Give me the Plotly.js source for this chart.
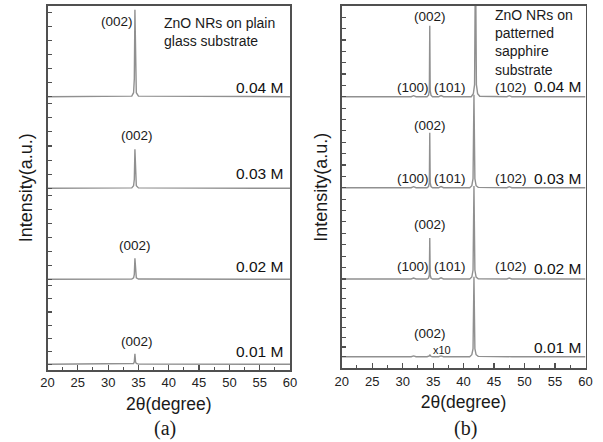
<!DOCTYPE html>
<html><head><meta charset="utf-8">
<script src="https://cdn.plot.ly/plotly-3.0.1.min.js"></script>
<style>html,body{margin:0;padding:0;background:#fff}#chart{width:603px;height:442px}</style>
</head><body><div id="chart"></div>
<script>
// ---------------- Data ----------------
const concentrations = ['0.01 M', '0.02 M', '0.03 M', '0.04 M'];

// (a) ZnO NRs on plain glass: 2θ (degree) and intensity (a.u.)
const glassTheta = [20, 33.9, 34.2, 34.32, 34.42, 34.52, 34.65, 35.0, 60];
const glass001 = [0, 0.2, 0.8, 2.5, 10.5, 2.5, 0.8, 0.2, 0];
const glass002 = [0, 0.3, 1.5, 5, 21, 5, 1.5, 0.3, 0];
const glass003 = [0, 0.4, 2.5, 9, 39, 9, 2.5, 0.4, 0];
const glass004 = [0, 0.6, 4, 18, 87, 18, 4, 0.6, 0];
const glassOffsets = [5.7, 90.7, 181.7, 273.3];

// (b) ZnO NRs on patterned sapphire
const sapphTheta = [20, 31.4, 31.8, 32.2, 34.0, 34.25, 34.38, 34.45, 34.52, 34.65, 34.9, 35.9, 36.3, 36.7, 41.0, 41.35, 41.55, 41.7, 41.85, 42.05, 42.4, 47.1, 47.5, 47.9, 60];
const sapphTheta004 = [20, 31.4, 31.8, 32.2, 34.0, 34.25, 34.38, 34.45, 34.52, 34.65, 34.9, 35.9, 36.3, 36.7, 41.25, 41.6, 41.8, 41.95, 42.1, 42.3, 42.65, 47.1, 47.5, 47.9, 60];
const sapph001 = [0, 0, 0.8, 0, 0, 0.3, 0.8, 2, 0.8, 0.3, 0, 0, 0.8, 0, 0, 2, 8, 80, 8, 2, 0.3, 0, 0.5, 0, 0];
const sapph002 = [0, 0, 1, 0, 0, 1, 4, 41, 4, 1, 0, 0, 1.2, 0, 0, 2, 9, 93, 9, 2, 0.3, 0, 1, 0, 0];
const sapph003 = [0, 0, 1, 0, 0, 1.2, 5, 55, 5, 1.2, 0, 0, 1.2, 0, 0, 2, 9, 93, 9, 2, 0.3, 0, 1, 0, 0];
const sapph004 = [0, 0, 1, 0, 0, 1.5, 6, 71, 6, 1.5, 0, 0, 1.2, 0, 0, 3, 12, 150, 12, 3, 0.4, 0, 1, 0, 0];
const sapphOffsets = [11.6, 89.3, 180.6, 271.6];

const xTickVals = [20, 25, 30, 35, 40, 45, 50, 55, 60];

// ---------------- Build ----------------
const lineStyle = {color: '#909090', width: 1.4};
const traces = [];
[glass001, glass002, glass003, glass004].forEach((s, i) => {
  traces.push({x: glassTheta, y: s.map(v => v + glassOffsets[i]), type: 'scatter', mode: 'lines',
    line: lineStyle, name: concentrations[i], xaxis: 'x', yaxis: 'y', hoverinfo: 'x+y'});
});
[sapph001, sapph002, sapph003, sapph004].forEach((s, i) => {
  const th = i === 3 ? sapphTheta004 : sapphTheta;
  traces.push({x: th, y: s.map(v => v + sapphOffsets[i]), type: 'scatter', mode: 'lines',
    line: lineStyle, name: concentrations[i], xaxis: 'x2', yaxis: 'y2', hoverinfo: 'x+y'});
});

function layerTicks(offsets, top, n, div) {
  const vals = [];
  offsets.forEach((o, i) => {
    const gap = (i < offsets.length - 1 ? offsets[i + 1] : top) - o;
    for (let k = 0; k <= n; k++) vals.push(o + k * gap / div);
  });
  return vals;
}

const FONT = 'Arial, "Liberation Sans", sans-serif';
const axisCol = '#505050';
function xAxis(domain, anchor) {
  return {domain, anchor, range: [20, 60], showgrid: false, zeroline: false,
    showline: true, mirror: true, linecolor: axisCol, linewidth: 1.7,
    ticks: 'inside', ticklen: 5, tickwidth: 1.2, tickcolor: axisCol,
    tickmode: 'array', tickvals: xTickVals, ticktext: xTickVals.map(String),
    minor: {ticks: 'inside', ticklen: 3, tickwidth: 1, tickcolor: axisCol, dtick: 2.5, tick0: 20},
    tickfont: {family: FONT, size: 13, color: '#222'},
    title: {text: '2θ(degree)', font: {family: FONT, size: 17.5, color: '#1a1a1a'}, standoff: 8}};
}
function yAxis(domain, anchor, range, tickvals) {
  return {domain, anchor, range, showgrid: false, zeroline: false,
    showline: true, mirror: true, linecolor: axisCol, linewidth: 1.7,
    ticks: 'inside', ticklen: 4, tickwidth: 1.1, tickcolor: axisCol,
    tickmode: 'array', tickvals, showticklabels: false,
    title: {text: 'Intensity(a.u.)', font: {family: FONT, size: 18, color: '#1a1a1a'}, standoff: 8}};
}

const W = 603, H = 442;
const layout = {
  width: W, height: H, margin: {l: 0, r: 0, t: 0, b: 0},
  paper_bgcolor: '#fff', plot_bgcolor: '#fff', showlegend: false,
  xaxis: xAxis([47.5 / W, 290 / W], 'y'),
  yaxis: yAxis([1 - 370 / H, 1 - 5.7 / H], 'x', [0, 364.3], layerTicks(glassOffsets, 364.3, 6, 6.5)),
  xaxis2: xAxis([341.7 / W, 585.5 / W], 'y2'),
  yaxis2: yAxis([1 - 368.3 / H, 1 - 6 / H], 'x2', [0, 362.3], layerTicks(sapphOffsets, 362.3, 7, 8)),
  annotations: []
};

function ann(ax, x, y, text, opt) {
  return Object.assign({xref: ax === 1 ? 'x' : 'x2', yref: ax === 1 ? 'y' : 'y2', x, y, text,
    showarrow: false, xanchor: 'center', yanchor: 'middle',
    font: {family: FONT, size: 13.5, color: '#1a1a1a'}}, opt || {});
}
const bigFont = {family: FONT, size: 15.5, color: '#111'};
const A = layout.annotations;
// panel (a)
A.push(ann(1, 31.4, 348.3, '(002)'));
A.push(ann(1, 34.7, 235, '(002)'));
A.push(ann(1, 34.44, 125, '(002)'));
A.push(ann(1, 34.7, 28.3, '(002)'));
A.push(ann(1, 38.84, 337.7, 'ZnO NRs on plain<br>glass substrate', {xanchor: 'left', align: 'left', font: {family: FONT, size: 14, color: '#1a1a1a'}}));
[18.3, 104, 196.7, 282].forEach((y, i) => A.push(ann(1, 59.18, y, concentrations[i], {xanchor: 'right', font: bigFont})));
// panel (b)
A.push(ann(2, 44.77, 326.2, 'ZnO NRs on<br>patterned<br>sapphire<br>substrate', {xanchor: 'left', align: 'left', font: {family: FONT, size: 14, color: '#1a1a1a'}}));
[[351.6, 280.3], [242.6, 190], [143.3, 101.6]].forEach(p => {
  A.push(ann(2, 34.49, p[0], '(002)'));
  A.push(ann(2, 31.7, p[1], '(100)'));
  A.push(ann(2, 37.77, p[1], '(101)'));
  A.push(ann(2, 47.73, p[1], '(102)'));
});
A.push(ann(2, 34.49, 35, '(002)'));
A.push(ann(2, 36.4, 18.3, 'x10', {font: {family: FONT, size: 11, color: '#1a1a1a'}}));
[21, 100, 190, 281.6].forEach((y, i) => A.push(ann(2, 59.59, y, concentrations[i], {xanchor: 'right', font: bigFont})));
// sub-figure captions
const capFont = {family: '"Liberation Serif", "Times New Roman", serif', size: 20, color: '#1a1a1a'};
A.push({xref: 'paper', yref: 'paper', x: 165 / W, y: 1 - 428 / H, text: '(a)', showarrow: false, xanchor: 'center', yanchor: 'middle', font: capFont});
A.push({xref: 'paper', yref: 'paper', x: 465.7 / W, y: 1 - 428 / H, text: '(b)', showarrow: false, xanchor: 'center', yanchor: 'middle', font: capFont});

Plotly.newPlot('chart', traces, layout, {displayModeBar: false, staticPlot: true});
</script>
</body></html>
